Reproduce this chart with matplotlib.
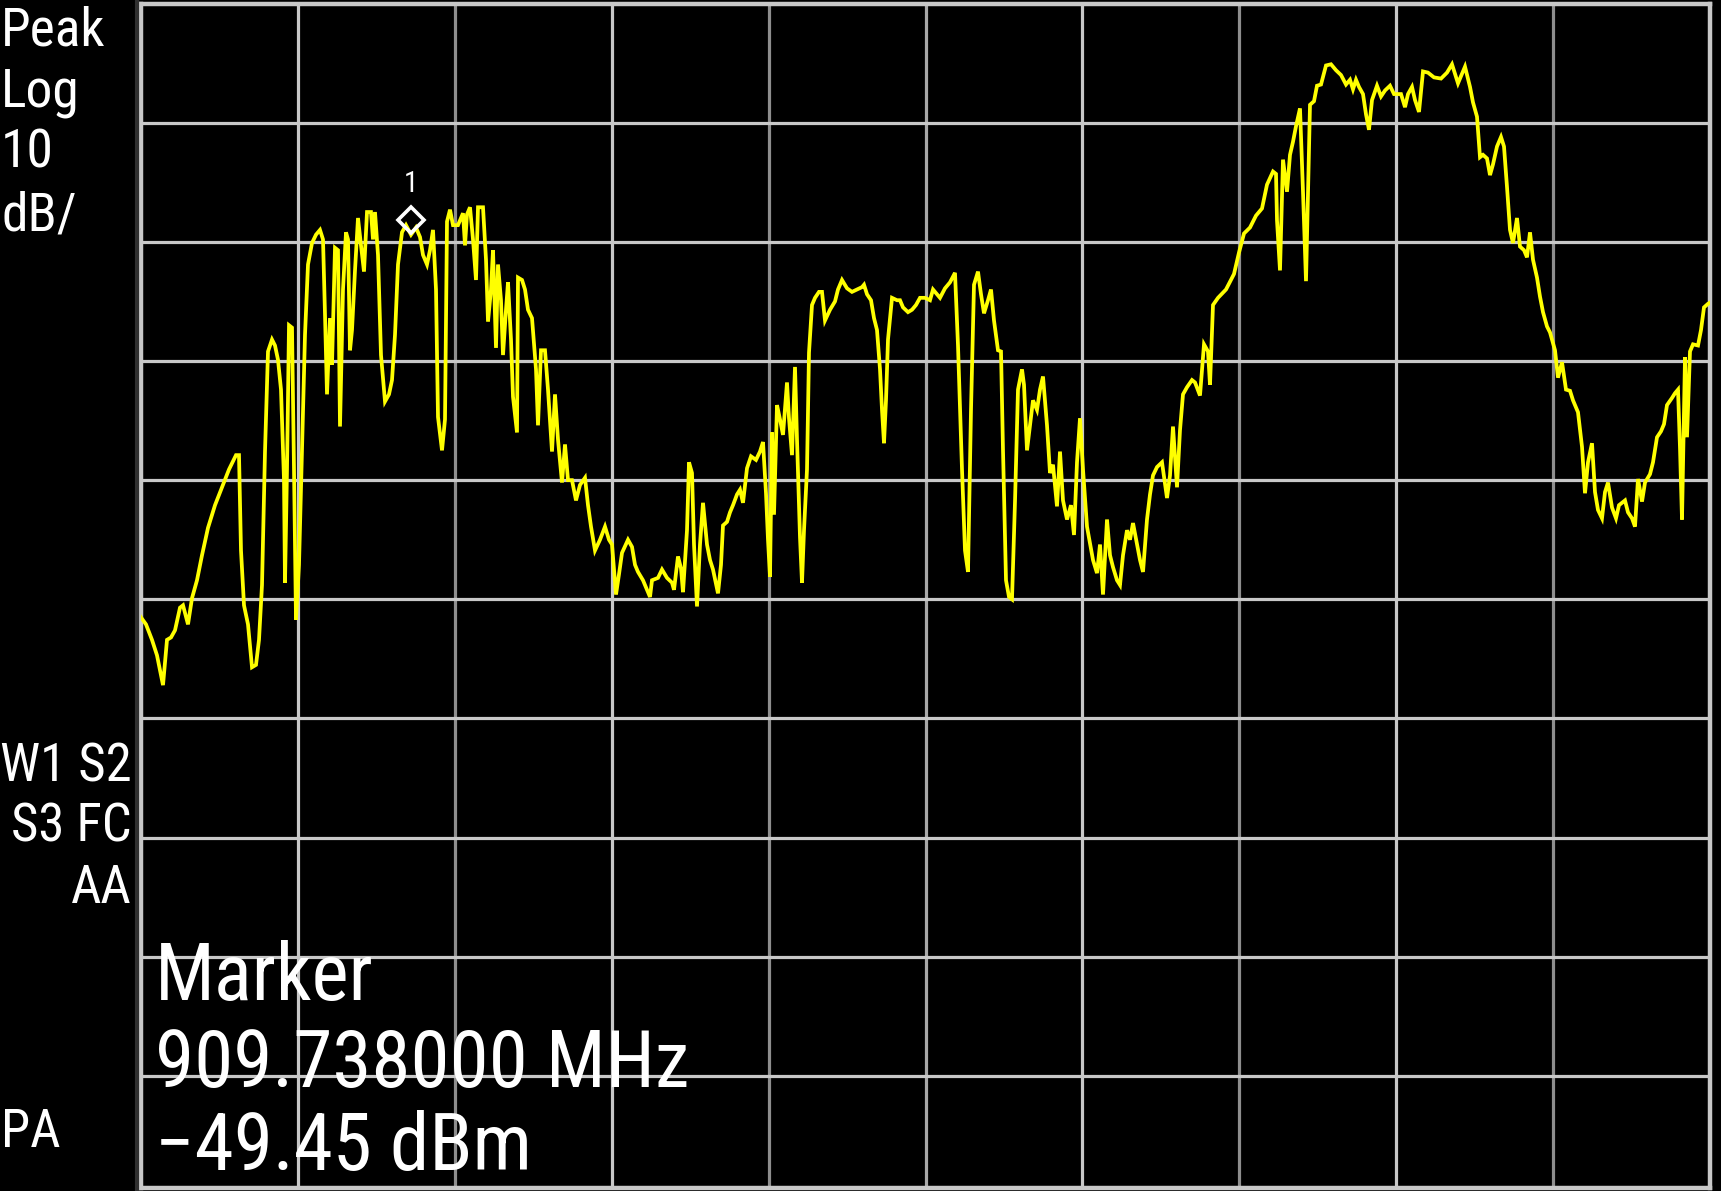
import matplotlib
matplotlib.use("Agg")
import matplotlib.pyplot as plt
from matplotlib import font_manager as fm
from matplotlib.lines import Line2D
import matplotlib.transforms as mtransforms

# ---------------- data ----------------
freq_start_mhz = 904.34
freq_stop_mhz = 935.72
ref_level_dbm = -30.0
db_per_div = 10.0
bottom_level_dbm = -129.4

trace_freq_mhz = [
    904.32, 904.44, 904.56, 904.66, 904.78, 904.86, 904.94, 905.02, 905.12, 905.18,
    905.28, 905.36, 905.46, 905.56, 905.68, 905.82, 905.96, 906.10, 906.24, 906.30,
    906.34, 906.40, 906.48, 906.56, 906.64, 906.70, 906.76, 906.82, 906.88, 906.96,
    907.02, 907.08, 907.14, 907.20, 907.22, 907.26, 907.30, 907.36, 907.40, 907.44,
    907.50, 907.56, 907.62, 907.68, 907.76, 907.84, 907.92, 907.98, 908.02, 908.06,
    908.12, 908.16, 908.22, 908.28, 908.32, 908.38, 908.44, 908.48, 908.52, 908.56,
    908.62, 908.68, 908.74, 908.80, 908.86, 908.94, 908.98, 909.02, 909.08, 909.14,
    909.22, 909.30, 909.36, 909.42, 909.48, 909.56, 909.64, 909.74, 909.84, 909.92,
    909.98, 910.06, 910.12, 910.18, 910.24, 910.28, 910.36, 910.42, 910.46, 910.52,
    910.58, 910.68, 910.78, 910.82, 910.86, 910.92, 910.98, 911.04, 911.08, 911.18,
    911.24, 911.28, 911.34, 911.38, 911.44, 911.48, 911.54, 911.58, 911.64, 911.68,
    911.74, 911.78, 911.86, 911.88, 911.96, 912.02, 912.08, 912.16, 912.24, 912.28,
    912.34, 912.42, 912.48, 912.56, 912.62, 912.68, 912.76, 912.82, 912.88, 912.96,
    913.04, 913.12, 913.22, 913.28, 913.34, 913.42, 913.52, 913.62, 913.70, 913.76,
    913.84, 913.90, 913.96, 914.08, 914.16, 914.22, 914.28, 914.38, 914.46, 914.52,
    914.56, 914.68, 914.76, 914.86, 914.96, 915.00, 915.08, 915.14, 915.18, 915.26,
    915.30, 915.36, 915.40, 915.46, 915.52, 915.58, 915.66, 915.72, 915.78, 915.88,
    915.94, 915.98, 916.06, 916.12, 916.18, 916.26, 916.32, 916.38, 916.46, 916.54,
    916.64, 916.72, 916.78, 916.84, 916.88, 916.92, 916.96, 917.00, 917.06, 917.12,
    917.18, 917.26, 917.30, 917.36, 917.42, 917.46, 917.52, 917.56, 917.60, 917.66,
    917.70, 917.76, 917.82, 917.90, 917.96, 918.02, 918.12, 918.22, 918.28, 918.36,
    918.46, 918.56, 918.66, 918.76, 918.80, 918.86, 918.94, 919.00, 919.06, 919.12,
    919.16, 919.20, 919.24, 919.28, 919.36, 919.46, 919.52, 919.58, 919.68, 919.76,
    919.84, 919.92, 920.02, 920.12, 920.18, 920.22, 920.32, 920.42, 920.52, 920.62,
    920.68, 920.76, 920.82, 920.88, 920.94, 921.00, 921.08, 921.14, 921.20, 921.28,
    921.34, 921.40, 921.48, 921.54, 921.58, 921.64, 921.70, 921.76, 921.82, 921.88,
    921.96, 922.00, 922.06, 922.12, 922.18, 922.26, 922.32, 922.38, 922.46, 922.52,
    922.58, 922.66, 922.72, 922.78, 922.86, 922.94, 923.00, 923.06, 923.12, 923.18,
    923.26, 923.32, 923.38, 923.46, 923.52, 923.58, 923.66, 923.72, 923.78, 923.86,
    923.92, 923.98, 924.06, 924.12, 924.18, 924.26, 924.32, 924.38, 924.46, 924.52,
    924.58, 924.66, 924.76, 924.86, 924.92, 924.98, 925.06, 925.12, 925.18, 925.26,
    925.36, 925.42, 925.52, 925.60, 925.68, 925.72, 925.78, 925.88, 926.04, 926.20,
    926.30, 926.40, 926.52, 926.64, 926.76, 926.86, 926.98, 927.04, 927.06, 927.12,
    927.18, 927.26, 927.32, 927.38, 927.44, 927.52, 927.58, 927.64, 927.72, 927.80,
    927.86, 927.94, 928.04, 928.14, 928.24, 928.34, 928.44, 928.52, 928.58, 928.64,
    928.70, 928.78, 928.84, 928.90, 928.96, 929.06, 929.14, 929.22, 929.32, 929.40,
    929.54, 929.62, 929.68, 929.76, 929.82, 929.90, 929.98, 930.08, 930.20, 930.34,
    930.46, 930.56, 930.68, 930.82, 930.92, 930.98, 931.06, 931.12, 931.18, 931.26,
    931.32, 931.38, 931.46, 931.54, 931.60, 931.66, 931.72, 931.78, 931.86, 931.92,
    932.00, 932.06, 932.12, 932.18, 932.26, 932.32, 932.38, 932.46, 932.52, 932.62,
    932.68, 932.76, 932.84, 932.92, 932.98, 933.08, 933.16, 933.22, 933.28, 933.36,
    933.42, 933.48, 933.56, 933.62, 933.68, 933.76, 933.84, 933.90, 934.02, 934.08,
    934.16, 934.22, 934.28, 934.36, 934.42, 934.52, 934.58, 934.66, 934.74, 934.80,
    934.86, 934.96, 935.02, 935.08, 935.12, 935.16, 935.22, 935.26, 935.32, 935.38,
    935.48, 935.54, 935.60, 935.68, 935.76,
]

trace_level_dbm = [
    -81.4, -82.1, -83.4, -84.7, -87.2, -83.4, -83.2, -82.6, -80.7, -80.5,
    -82.1, -79.9, -78.4, -76.3, -74.0, -72.1, -70.6, -69.1, -67.9, -67.9,
    -75.9, -80.5, -82.1, -85.7, -85.5, -83.4, -78.8, -67.6, -59.2, -58.2,
    -58.7, -59.9, -62.4, -70.0, -78.6, -69.1, -57.0, -57.2, -69.1, -81.7,
    -77.1, -67.6, -57.8, -51.9, -50.1, -49.4, -49.0, -49.8, -56.1, -62.8,
    -56.4, -60.3, -50.5, -50.7, -65.5, -54.0, -49.2, -49.8, -59.1, -57.4,
    -52.4, -48.0, -50.3, -52.5, -47.5, -47.5, -49.8, -47.5, -51.1, -59.5,
    -63.4, -62.8, -61.6, -57.8, -51.9, -49.2, -48.6, -49.4, -48.8, -49.6,
    -51.1, -51.9, -50.7, -49.0, -54.0, -64.7, -67.5, -64.9, -48.3, -47.3,
    -48.6, -48.6, -47.6, -50.3, -47.7, -47.1, -49.8, -53.2, -47.1, -47.1,
    -51.5, -56.7, -54.0, -50.7, -58.9, -51.9, -54.9, -59.5, -55.7, -53.4,
    -58.2, -63.0, -66.0, -53.0, -53.2, -54.0, -55.7, -56.4, -60.7, -65.4,
    -59.1, -59.1, -62.4, -67.6, -62.8, -66.6, -70.2, -67.0, -70.0, -70.0,
    -71.7, -70.4, -69.8, -72.1, -73.9, -75.9, -75.0, -73.9, -75.0, -75.4,
    -79.6, -77.9, -76.1, -75.0, -75.6, -77.1, -77.7, -78.4, -79.2, -79.8,
    -78.4, -78.2, -77.5, -78.2, -78.6, -79.2, -76.4, -77.4, -79.4, -74.2,
    -68.5, -69.4, -75.4, -80.6, -75.4, -71.9, -75.4, -76.7, -77.5, -79.5,
    -77.1, -73.8, -73.5, -72.7, -72.1, -71.2, -70.8, -71.9, -69.0, -68.0,
    -68.3, -67.6, -66.8, -71.1, -75.0, -78.1, -66.0, -72.9, -63.7, -64.9,
    -66.2, -61.8, -64.8, -67.9, -60.5, -66.6, -74.8, -78.6, -74.2, -69.1,
    -59.3, -55.3, -54.7, -54.2, -54.2, -56.6, -55.7, -55.0, -54.0, -53.2,
    -53.9, -54.2, -54.0, -53.8, -53.6, -54.4, -54.9, -56.4, -57.4, -60.7,
    -64.1, -66.9, -63.3, -58.2, -54.7, -54.9, -54.9, -55.5, -55.9, -55.7,
    -55.3, -54.7, -54.7, -54.9, -54.0, -54.2, -54.7, -53.9, -53.4, -52.6,
    -58.7, -69.1, -75.9, -77.7, -64.1, -53.6, -52.5, -54.4, -56.0, -54.9,
    -54.0, -56.6, -59.1, -59.2, -67.5, -78.4, -79.8, -80.0, -71.8, -62.4,
    -60.7, -62.0, -67.5, -65.4, -63.3, -64.1, -62.4, -61.3, -65.4, -69.4,
    -68.7, -72.2, -67.6, -71.7, -73.3, -72.1, -74.6, -68.5, -64.8, -69.1,
    -73.9, -75.3, -76.7, -77.8, -75.4, -79.6, -73.3, -76.3, -77.3, -78.4,
    -78.8, -76.3, -74.2, -75.0, -73.6, -75.4, -76.7, -77.7, -73.3, -71.2,
    -69.6, -68.9, -68.5, -71.5, -69.6, -65.5, -70.6, -65.8, -62.8, -62.2,
    -61.6, -61.8, -62.9, -58.6, -59.2, -62.0, -55.3, -54.7, -54.0, -52.7,
    -50.9, -49.3, -48.8, -47.8, -47.2, -45.2, -44.1, -44.3, -48.2, -52.4,
    -43.1, -45.8, -42.7, -41.6, -40.3, -38.8, -45.8, -53.3, -38.5, -38.2,
    -36.9, -36.8, -35.2, -35.1, -35.6, -36.0, -36.8, -36.4, -37.2, -36.4,
    -37.0, -37.6, -39.3, -40.6, -38.1, -36.9, -37.8, -37.3, -36.9, -37.6,
    -37.6, -38.7, -37.6, -37.0, -38.1, -39.1, -35.7, -35.8, -36.2, -36.3,
    -35.8, -35.1, -36.7, -35.3, -37.0, -38.3, -39.5, -42.9, -42.7, -43.0,
    -44.4, -43.5, -42.0, -41.2, -42.0, -45.4, -49.0, -50.1, -48.0, -50.4,
    -50.7, -51.3, -49.2, -51.5, -53.0, -54.6, -55.9, -57.1, -57.6, -59.1,
    -61.4, -60.1, -62.4, -62.5, -63.3, -64.3, -67.2, -71.1, -68.5, -66.9,
    -71.0, -72.5, -73.2, -71.0, -70.2, -72.3, -73.2, -72.1, -71.7, -72.7,
    -73.2, -73.9, -69.9, -71.8, -70.2, -69.5, -68.5, -66.4, -65.9, -65.3,
    -63.7, -63.1, -62.7, -62.4, -67.3, -73.3, -59.7, -66.4, -59.2, -58.6,
    -58.7, -57.4, -55.5, -55.2, -55.0,
]

marker_freq_mhz = 909.738
marker_level_dbm = -49.45
marker_number = "1"

upper_left_labels = ["Peak", "Log", "10", "dB/"]
lower_left_labels = ["W1 S2", "S3 FC", "AA"]
pa_label = "PA"
marker_readout = ["Marker", "909.738000 MHz", "\u221249.45 dBm"]

# ---------------- styling ----------------
W, H = 1721, 1191
BG = "black"
GRID_LIGHT = "#c8c8c8"
GRID_DARK = "#8e8e8e"
TRACE = "#ffff00"

names = {f.name for f in fm.fontManager.ttflist}
font_main = None
for cand in ["Liberation Sans Narrow", "Roboto Condensed", "Open Sans Condensed",
             "DejaVu Sans Condensed", "Liberation Sans"]:
    if cand in names:
        font_main = cand
        break
if font_main is None:
    font_main = "DejaVu Sans"
FAM = [font_main, "DejaVu Sans"]


def fx(px):
    return px / W


def fy(py):
    return 1.0 - py / H


fig = plt.figure(figsize=(W / 100, H / 100), dpi=100, facecolor=BG)
ax = fig.add_axes([fx(141), fy(1188), (1710 - 141) / W, (1188 - 3.5) / H])
ax.set_facecolor(BG)
ax.set_xlim(freq_start_mhz, freq_stop_mhz)
ax.set_ylim(bottom_level_dbm, ref_level_dbm)
ax.set_xticks([])
ax.set_yticks([])
for s in ax.spines.values():
    s.set_color(GRID_LIGHT)
    s.set_linewidth(3.2)

span = freq_stop_mhz - freq_start_mhz
vcol = {1: GRID_LIGHT, 2: GRID_DARK, 3: GRID_LIGHT, 4: GRID_DARK, 5: "#a8a8a8",
        6: GRID_LIGHT, 7: GRID_DARK, 8: GRID_LIGHT, 9: GRID_DARK}
for i in range(1, 10):
    ax.axvline(freq_start_mhz + i * span / 10.0, color=vcol[i], lw=2.3, zorder=1)
for i in range(1, 10):
    ax.axhline(ref_level_dbm - i * db_per_div, color=GRID_LIGHT, lw=2.3, zorder=1)

ax.plot(trace_freq_mhz, trace_level_dbm, color=TRACE, lw=2.7, zorder=3,
        solid_joinstyle="miter")

# marker diamond (drawn just above the marked trace point) and its number
dia_tr = mtransforms.offset_copy(ax.transData, fig=fig, x=0, y=15, units="dots")
ax.plot([marker_freq_mhz], [marker_level_dbm], marker="D", ms=13, mfc="none",
        mec="white", mew=2.6, transform=dia_tr, zorder=5, clip_on=False)
ax.annotate(marker_number, xy=(marker_freq_mhz, marker_level_dbm), xytext=(0, 43),
            textcoords="offset pixels", ha="center", va="baseline",
            color="white", fontsize=21, family=FAM, zorder=6)

# dark strip left of the frame
fig.add_artist(Line2D([fx(136.5), fx(136.5)], [0, 1], transform=fig.transFigure,
                      color="#303030", lw=3.0))

# left annotation column
upper_baselines = [45, 107, 167, 230]
for s, b in zip(upper_left_labels, upper_baselines):
    fig.text(fx(1), fy(b), s, color="white", fontsize=38.5, family=FAM,
             ha="left", va="baseline")

lower_baselines = [782, 842, 903]
for s, b in zip(lower_left_labels, lower_baselines):
    fig.text(fx(132), fy(b), s, color="white", fontsize=38, family=FAM,
             ha="right", va="baseline")
fig.text(fx(1), fy(1147), pa_label, color="white", fontsize=38, family=FAM,
         ha="left", va="baseline")

# marker readout
readout_baselines = [1000, 1087, 1170]
for s, b in zip(marker_readout, readout_baselines):
    fig.text(fx(155), fy(b), s, color="white", fontsize=57, family=FAM,
             ha="left", va="baseline", zorder=10)

fig.savefig("out.png", dpi=100, facecolor=BG)
